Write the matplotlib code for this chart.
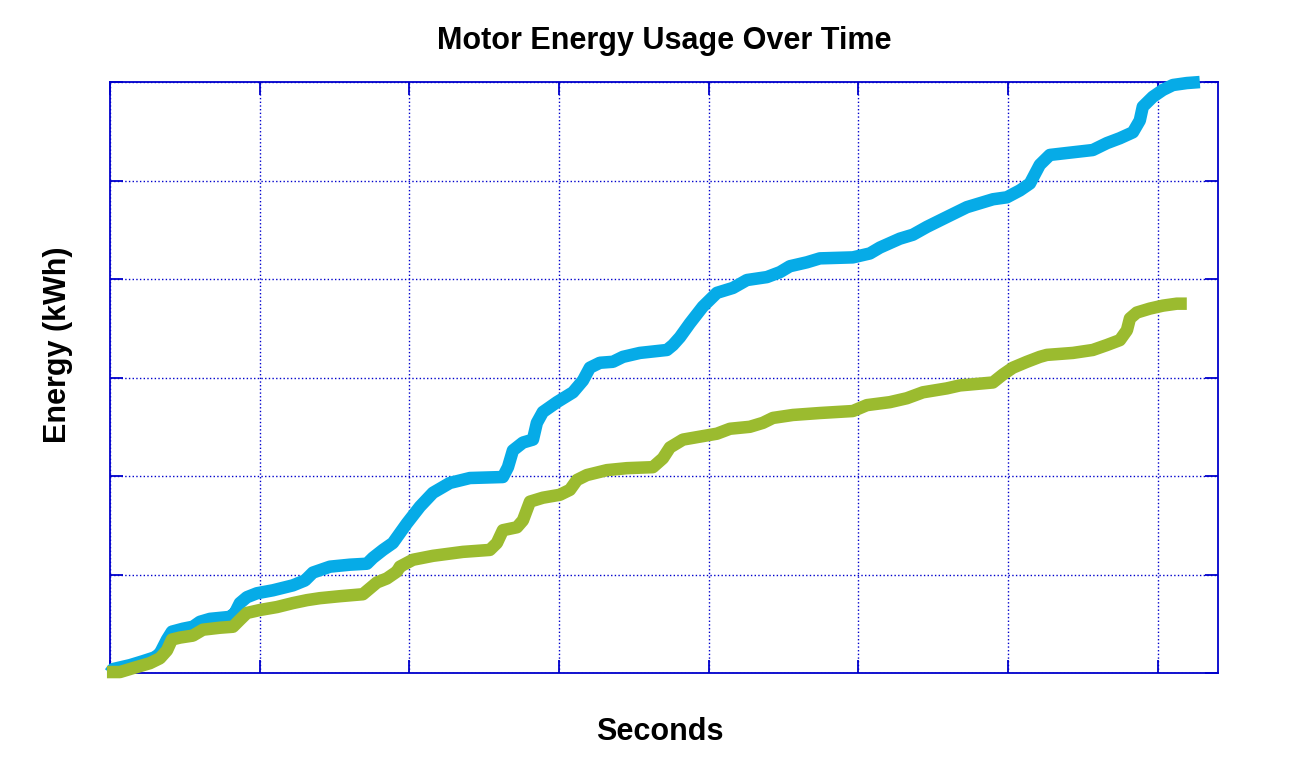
import matplotlib.pyplot as plt

# time in seconds, energy in kWh
blue_t = [0, 20, 134, 220, 301, 334, 381, 414, 488, 554, 601, 668, 802, 835, 868, 915,
          982, 1089, 1222, 1303, 1356, 1470, 1603, 1717, 1757, 1824, 1890, 1984, 2071,
          2158, 2271, 2405, 2625, 2659, 2692, 2759, 2826, 2852, 2892, 2986, 3093, 3160,
          3206, 3273, 3360, 3427, 3540, 3721, 3761, 3808, 3874, 3961, 4055, 4162, 4255,
          4389, 4476, 4542, 4656, 4743, 4963, 5077, 5144, 5277, 5364, 5458, 5591, 5725,
          5812, 5899, 5992, 6079, 6146, 6212, 6279, 6393, 6566, 6660, 6747, 6834, 6880,
          6900, 6967, 7034, 7101, 7194, 7281]
blue_e = [0.00, 0.04, 0.08, 0.12, 0.16, 0.20, 0.34, 0.42, 0.45, 0.47, 0.52, 0.55, 0.57,
          0.61, 0.71, 0.77, 0.81, 0.84, 0.89, 0.94, 1.02, 1.08, 1.10, 1.11, 1.17, 1.25,
          1.32, 1.52, 1.69, 1.83, 1.93, 1.98, 1.99, 2.09, 2.26, 2.34, 2.37, 2.54, 2.65,
          2.75, 2.85, 2.97, 3.10, 3.15, 3.16, 3.21, 3.25, 3.28, 3.33, 3.41, 3.55, 3.72,
          3.86, 3.91, 3.99, 4.02, 4.07, 4.13, 4.17, 4.21, 4.22, 4.26, 4.32, 4.41, 4.45,
          4.53, 4.63, 4.73, 4.77, 4.81, 4.83, 4.90, 4.97, 5.16, 5.26, 5.28, 5.31, 5.38,
          5.43, 5.49, 5.61, 5.75, 5.85, 5.92, 5.97, 5.99, 6.00]

green_t = [-20, 67, 154, 267, 334, 381, 414, 468, 554, 621, 735, 822, 868, 915, 1002,
           1116, 1222, 1316, 1403, 1536, 1690, 1737, 1784, 1850, 1917, 1937, 2024, 2158,
           2358, 2538, 2585, 2625, 2719, 2759, 2806, 2892, 3006, 3073, 3120, 3186, 3320,
           3454, 3627, 3694, 3741, 3828, 3941, 4055, 4142, 4275, 4362, 4429, 4562, 4743,
           4963, 5057, 5210, 5324, 5431, 5591, 5678, 5899, 5965, 6032, 6126, 6212, 6259,
           6433, 6566, 6660, 6747, 6794, 6814, 6860, 6947, 7034, 7127, 7194]
green_e = [0.01, 0.01, 0.05, 0.10, 0.15, 0.23, 0.34, 0.36, 0.38, 0.44, 0.46, 0.47, 0.54,
           0.61, 0.64, 0.67, 0.71, 0.74, 0.76, 0.78, 0.80, 0.86, 0.92, 0.96, 1.03, 1.08,
           1.15, 1.19, 1.23, 1.25, 1.32, 1.45, 1.48, 1.55, 1.74, 1.78, 1.81, 1.86, 1.96,
           2.01, 2.06, 2.08, 2.09, 2.18, 2.29, 2.37, 2.40, 2.43, 2.48, 2.50, 2.54, 2.59,
           2.62, 2.64, 2.66, 2.72, 2.75, 2.79, 2.85, 2.89, 2.92, 2.95, 3.03, 3.10, 3.16,
           3.21, 3.23, 3.25, 3.28, 3.33, 3.38, 3.48, 3.60, 3.66, 3.70, 3.73, 3.75, 3.75]

axis_blue = '#0000CC'
font = 'Liberation Sans'

fig = plt.figure(figsize=(13.12, 7.72), dpi=100)
ax = fig.add_axes([0.0838, 0.1282, 0.8445, 0.7655])

ax.plot(blue_t, blue_e, color='#06ABE7', linewidth=9, solid_capstyle='butt',
        solid_joinstyle='round', clip_on=False, zorder=3)
ax.plot(green_t, green_e, color='#9BBB2F', linewidth=9, solid_capstyle='butt',
        solid_joinstyle='round', clip_on=False, zorder=4)

ax.set_xlim(0, 7402)
ax.set_ylim(0, 6)
ax.set_xticks(range(0, 7402, 1000))
ax.set_yticks(range(0, 7))
ax.set_xticklabels([])
ax.set_yticklabels([])

ax.grid(True, color=axis_blue, linestyle=':', linewidth=1.0)
ax.set_axisbelow(True)
for s in ax.spines.values():
    s.set_color(axis_blue)
    s.set_linewidth(1.3)
ax.tick_params(direction='in', length=9.5, width=1.3, color=axis_blue,
               top=True, right=True)

ax.set_title('Motor Energy Usage Over Time', fontsize=22, fontweight='bold',
             family=font, pad=24)
ax.set_xlabel('Seconds', fontsize=22, fontweight='bold', family=font)
ax.set_ylabel('Energy (kWh)', fontsize=22, fontweight='bold', family=font)
ax.xaxis.set_label_coords(0.496, -0.075)
ax.yaxis.set_label_coords(-0.033, 0.555)

fig.savefig('out.png', dpi=100)
